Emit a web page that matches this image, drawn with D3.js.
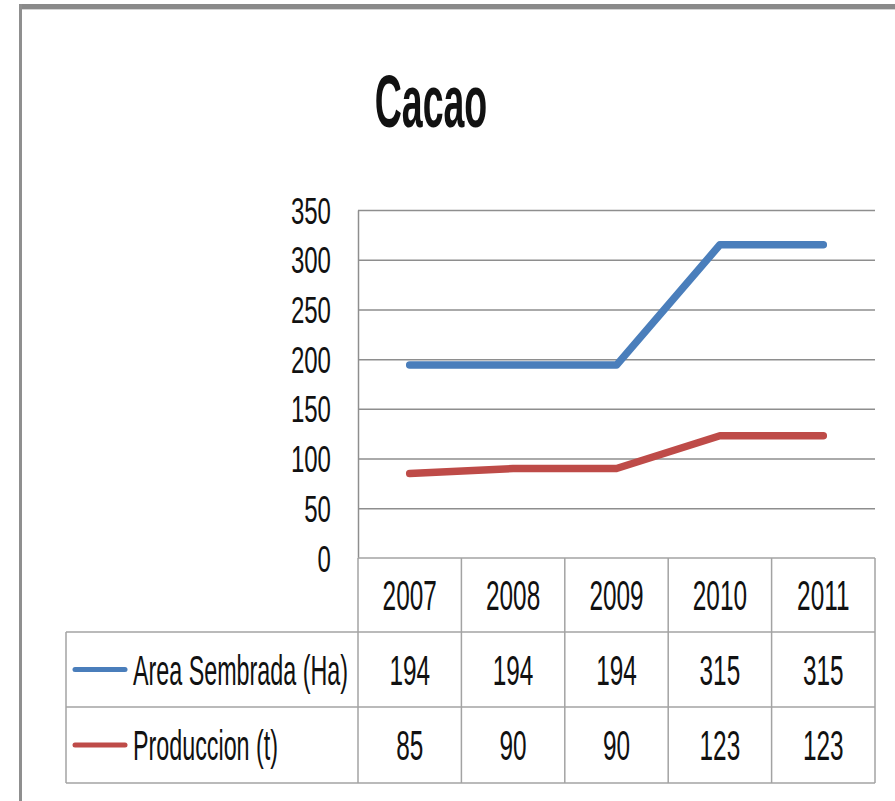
<!DOCTYPE html>
<html>
<head>
<meta charset="utf-8">
<script src="https://d3js.org/d3.v7.min.js"></script>
<style>
  body { margin: 0; background: #fff; }
  text { font-family: "Liberation Sans", Arial, sans-serif; fill: #111; }
</style>
</head>
<body>
<div id="my_dataviz"></div>
<script>
// data
var years = ["2007", "2008", "2009", "2010", "2011"];
var areaSembrada = [194, 194, 194, 315, 315];
var produccion = [85, 90, 90, 123, 123];
var seriesNames = ["Area Sembrada (Ha)", "Produccion (t)"];
var seriesColors = ["#4a7ebb", "#be4b48"];
var yTicks = [0, 50, 100, 150, 200, 250, 300, 350];

var series = [
  {name: seriesNames[0], color: seriesColors[0], values: areaSembrada},
  {name: seriesNames[1], color: seriesColors[1], values: produccion}
];

var W = 895, H = 801;
var plot = {left: 358, right: 875, top: 210, bottom: 558};
var rowTop = [558, 632, 707, 783];   // table row edges
var tableLeft = 66;
var gridColor = "#8e8e8e", tableColor = "#a3a3a3";

var svg = d3.select("#my_dataviz")
  .append("svg")
    .attr("width", W)
    .attr("height", H);

// frame (top bar + left edge of the chart box)
svg.append("rect").attr("x", 19).attr("y", 4).attr("width", W - 19).attr("height", 5).style("fill", "#8a8a8a");
svg.append("rect").attr("x", 19).attr("y", 9).attr("width", W - 19).attr("height", 1).style("fill", "#d4d4d4");
svg.append("rect").attr("x", 19).attr("y", 4).attr("width", 3).attr("height", H - 4).style("fill", "#8f8f8f");

// helper: condensed text (the original is squeezed horizontally)
function label(g, str, x, y, size, anchor, sx, weight) {
  return g.append("text")
    .attr("transform", "translate(" + x + "," + y + ") scale(" + sx + ",1)")
    .attr("text-anchor", anchor)
    .style("font-size", size + "px")
    .style("font-weight", weight || "normal")
    .text(str);
}

// title
label(svg, "Cacao", 431, 127, 75, "middle", 0.5, "bold");

// scales
var x = d3.scaleBand()
  .domain(years)
  .range([plot.left, plot.right]);

var y = d3.scaleLinear()
  .domain([0, 350])
  .range([plot.bottom, plot.top]);

// Y axis with gridlines
var yAxis = svg.append("g")
  .attr("transform", "translate(" + plot.left + ",0)")
  .call(d3.axisLeft(y)
    .tickValues(yTicks)
    .tickSizeInner(-(plot.right - plot.left))
    .tickSizeOuter(0)
    .tickPadding(27));

yAxis.select(".domain")
  .attr("stroke", gridColor)
  .attr("stroke-width", 1.5);
yAxis.selectAll(".tick line")
  .attr("stroke", function(d) { return d === 0 ? "none" : gridColor; })
  .attr("stroke-width", 1.5);
yAxis.selectAll(".tick text")
  .attr("x", null)
  .attr("dy", null)
  .attr("transform", "translate(-27,13) scale(0.65,1)")
  .style("font-size", "37px")
  .style("font-family", "Liberation Sans, Arial, sans-serif")
  .attr("fill", "#111");

// data table
var table = svg.append("g");
var colEdges = years.map(function(d) { return x(d); }).concat([plot.right]);

// horizontal rules
table.append("line")
  .attr("x1", plot.left).attr("x2", plot.right)
  .attr("y1", rowTop[0]).attr("y2", rowTop[0]);
rowTop.slice(1).forEach(function(ry) {
  table.append("line")
    .attr("x1", tableLeft).attr("x2", plot.right)
    .attr("y1", ry).attr("y2", ry);
});
// vertical rules
colEdges.forEach(function(cx) {
  table.append("line")
    .attr("x1", cx).attr("x2", cx)
    .attr("y1", rowTop[0]).attr("y2", rowTop[3]);
});
table.append("line")
  .attr("x1", tableLeft).attr("x2", tableLeft)
  .attr("y1", rowTop[1]).attr("y2", rowTop[3]);

table.selectAll("line")
  .attr("stroke", tableColor)
  .attr("stroke-width", 1.5);

// header row: years
years.forEach(function(yr) {
  label(table, yr, x(yr) + x.bandwidth() / 2, 610, 42, "middle", 0.58);
});

// series rows: legend key, name, values
series.forEach(function(s, i) {
  var mid = (rowTop[i + 1] + rowTop[i + 2]) / 2;
  table.append("line")
    .attr("x1", 75).attr("x2", 125)
    .attr("y1", mid).attr("y2", mid)
    .attr("stroke", s.color)
    .attr("stroke-width", 5)
    .attr("stroke-linecap", "round");
  label(table, s.name, 133, mid + 15, 42, "start", 0.555);
  s.values.forEach(function(v, j) {
    label(table, v, x(years[j]) + x.bandwidth() / 2, mid + 15, 42, "middle", 0.58);
  });
});

// lines
var line = d3.line()
  .x(function(d, i) { return x(years[i]) + x.bandwidth() / 2; })
  .y(function(d) { return y(d); });

svg.append("g")
  .selectAll("path")
  .data(series)
  .enter()
  .append("path")
    .attr("d", function(d) { return line(d.values); })
    .attr("fill", "none")
    .attr("stroke", function(d) { return d.color; })
    .attr("stroke-width", 7.5)
    .attr("stroke-linecap", "round")
    .attr("stroke-linejoin", "round");
</script>
</body>
</html>
